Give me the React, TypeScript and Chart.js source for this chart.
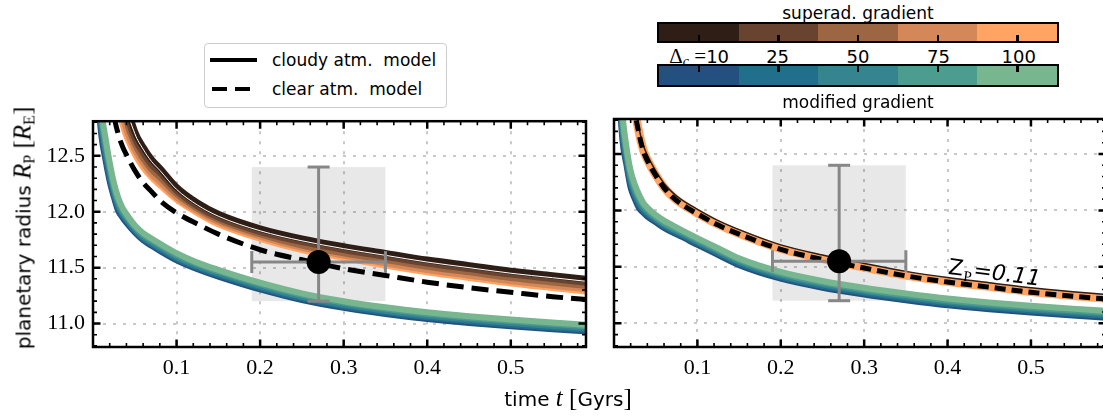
import React, { useEffect, useRef } from "react";
import { Chart, registerables } from "chart.js";

Chart.register(...registerables);

// ---------------- data ----------------
const timeGyr = [0.005, 0.01, 0.015, 0.02, 0.025, 0.03, 0.035, 0.04, 0.05, 0.06, 0.07, 0.08, 0.1, 0.125, 0.15, 0.2, 0.25, 0.3, 0.35, 0.4, 0.45, 0.5, 0.55, 0.6];

const deltaC = [10, 25, 50, 75, 100];
const superadColors = ["#2f1e16", "#674330", "#9c6642", "#d4885a", "#ffa462"];
const modifiedColors = ["#24507f", "#216f8d", "#358490", "#4d9c90", "#78b690"];

const N = null;
// left panel: superadiabatic gradient, cloudy atmosphere
const leftSup10 = [N, N, N, N, N, N, 13.3, 13.0, 12.72, 12.58, 12.47, 12.39, 12.22, 12.08, 11.98, 11.85, 11.76, 11.69, 11.63, 11.57, 11.52, 11.47, 11.43, 11.39];
const leftSup25 = [N, N, N, N, N, N, 13.15, 12.9, 12.66, 12.53, 12.42, 12.35, 12.19, 12.05, 11.95, 11.82, 11.73, 11.66, 11.6, 11.54, 11.49, 11.44, 11.4, 11.36];
const leftSup50 = [N, N, N, N, N, N, 13.02, 12.82, 12.61, 12.48, 12.38, 12.31, 12.16, 12.03, 11.93, 11.8, 11.7, 11.63, 11.57, 11.51, 11.46, 11.41, 11.37, 11.33];
const leftSup75 = [N, N, N, N, N, 13.2, 12.9, 12.74, 12.56, 12.44, 12.34, 12.27, 12.13, 12.01, 11.91, 11.78, 11.68, 11.61, 11.54, 11.48, 11.43, 11.38, 11.34, 11.3];
const leftSup100 = [N, N, N, N, 13.3, 12.95, 12.8, 12.68, 12.52, 12.4, 12.31, 12.24, 12.11, 11.99, 11.89, 11.76, 11.66, 11.59, 11.52, 11.46, 11.41, 11.36, 11.32, 11.28];
const leftSupWhite = [N, N, N, N, N, N, 13.25, 12.96, 12.7, 12.56, 12.45, 12.37, 12.2, 12.06, 11.96, 11.83, 11.74, 11.67, 11.61, 11.55, 11.5, 11.45, 11.41, 11.37];
// left panel: clear atmosphere
const leftClear = [N, N, N, 13.3, 12.88, 12.7, 12.59, 12.51, 12.37, 12.26, 12.18, 12.1, 11.99, 11.89, 11.8, 11.66, 11.57, 11.49, 11.43, 11.37, 11.32, 11.28, 11.24, 11.21];
// left panel: modified gradient
const leftMod10 = [13.1, 12.68, 12.46, 12.27, 12.13, 12.01, 11.95, 11.9, 11.815, 11.745, 11.695, 11.65, 11.565, 11.485, 11.42, 11.305, 11.21, 11.14, 11.085, 11.04, 11.005, 10.975, 10.948, 10.925];
const leftMod25 = [13.2, 12.74, 12.51, 12.31, 12.16, 12.04, 11.97, 11.92, 11.83, 11.76, 11.71, 11.665, 11.58, 11.5, 11.435, 11.32, 11.225, 11.155, 11.1, 11.055, 11.02, 10.99, 10.963, 10.94];
const leftMod50 = [13.3, 12.8, 12.56, 12.36, 12.19, 12.07, 11.99, 11.94, 11.845, 11.775, 11.725, 11.68, 11.595, 11.515, 11.45, 11.335, 11.24, 11.17, 11.115, 11.07, 11.035, 11.005, 10.978, 10.955];
const leftMod75 = [13.4, 12.86, 12.61, 12.4, 12.22, 12.1, 12.015, 11.96, 11.865, 11.795, 11.745, 11.7, 11.615, 11.533, 11.468, 11.352, 11.257, 11.187, 11.132, 11.087, 11.052, 11.022, 10.995, 10.972];
const leftMod100 = [13.5, 12.92, 12.66, 12.44, 12.26, 12.13, 12.04, 11.98, 11.88, 11.81, 11.76, 11.715, 11.63, 11.545, 11.48, 11.365, 11.27, 11.2, 11.145, 11.1, 11.065, 11.035, 11.01, 10.985];

// right panel: modified gradient
const rightMod10 = [13.2, 12.63, 12.4, 12.2, 12.1, 12.02, 11.98, 11.945, 11.895, 11.845, 11.805, 11.77, 11.695, 11.605, 11.515, 11.395, 11.315, 11.255, 11.205, 11.16, 11.125, 11.095, 11.07, 11.045];
const rightMod25 = [13.3, 12.69, 12.44, 12.24, 12.13, 12.05, 12.0, 11.965, 11.91, 11.86, 11.82, 11.785, 11.71, 11.62, 11.53, 11.41, 11.33, 11.27, 11.22, 11.175, 11.14, 11.11, 11.085, 11.06];
const rightMod50 = [13.4, 12.75, 12.48, 12.28, 12.16, 12.08, 12.02, 11.985, 11.925, 11.875, 11.835, 11.8, 11.725, 11.635, 11.545, 11.425, 11.345, 11.285, 11.235, 11.19, 11.155, 11.125, 11.1, 11.075];
const rightMod75 = [13.45, 12.81, 12.52, 12.31, 12.19, 12.11, 12.045, 12.005, 11.94, 11.89, 11.85, 11.815, 11.74, 11.65, 11.56, 11.44, 11.36, 11.3, 11.25, 11.205, 11.17, 11.14, 11.115, 11.09];
const rightMod100 = [13.5, 12.87, 12.56, 12.35, 12.23, 12.14, 12.07, 12.025, 11.96, 11.91, 11.87, 11.83, 11.755, 11.665, 11.575, 11.455, 11.375, 11.315, 11.265, 11.22, 11.185, 11.155, 11.13, 11.105];
// right panel: superadiabatic fit (Z_P = 0.11) and clear atmosphere
const rightSupFit = [N, N, N, 13.42, 12.92, 12.69, 12.54, 12.45, 12.315, 12.205, 12.125, 12.065, 11.975, 11.875, 11.795, 11.66, 11.57, 11.495, 11.425, 11.37, 11.325, 11.28, 11.245, 11.215];
const rightSupEdge = [N, N, N, N, 13.0, 12.73, 12.58, 12.49, 12.35, 12.24, 12.16, 12.1, 12.01, 11.91, 11.83, 11.695, 11.605, 11.53, 11.46, 11.405, 11.36, 11.315, 11.28, 11.25];
const rightClear = [N, N, N, 13.4, 12.9, 12.68, 12.53, 12.44, 12.31, 12.2, 12.12, 12.06, 11.97, 11.87, 11.79, 11.655, 11.565, 11.49, 11.42, 11.365, 11.32, 11.275, 11.24, 11.21];

// observation
const obsAge = 0.27;
const obsAgeLow = 0.19;
const obsAgeHigh = 0.35;
const obsRadius = 11.55;
const obsRadiusLow = 11.2;
const obsRadiusHigh = 12.4;

// axes
const xMin = 0;
const xMax = 0.59;
const yMin = 10.79;
const yMax = 12.81;
const xTickValues = [0.1, 0.2, 0.3, 0.4, 0.5];
const yTickValues = [11.0, 11.5, 12.0, 12.5];

// annotation
const zLabelAge = 0.4;
const zLabelRadius = 11.44;
const zLabelValue = "0.11";

// ---------------- styling helpers ----------------
const SANS = '"DejaVu Sans", sans-serif';
const SERIF = '"Liberation Serif", serif';
const GRID = "#c8c8c8";
const ERR = "#878787";

const toPoints = (ys: (number | null)[]) =>
  timeGyr.map((t, i) => ({ x: t, y: ys[i] })).filter((p) => p.y !== null);

const curve = (ys: (number | null)[], color: string, width: number, dash: number[] = []) => ({
  type: "line",
  data: toPoints(ys),
  borderColor: color,
  borderWidth: width,
  borderDash: dash,
  borderCapStyle: "butt",
  borderJoinStyle: "round",
  pointRadius: 0,
  pointHoverRadius: 0,
  fill: false,
  cubicInterpolationMode: "monotone",
  clip: 0,
});

const observationSets = () => [
  {
    type: "line",
    data: [
      { x: obsAge, y: obsRadiusLow },
      { x: obsAge, y: obsRadiusHigh },
    ],
    borderColor: ERR,
    borderWidth: 3,
    tension: 0,
    pointStyle: "line",
    pointRadius: 11,
    pointHoverRadius: 11,
    pointRotation: 0,
    pointBorderColor: ERR,
    pointBorderWidth: 3,
    clip: false,
  },
  {
    type: "line",
    data: [
      { x: obsAgeLow, y: obsRadius },
      { x: obsAgeHigh, y: obsRadius },
    ],
    borderColor: ERR,
    borderWidth: 3,
    tension: 0,
    pointStyle: "line",
    pointRadius: 11,
    pointHoverRadius: 11,
    pointRotation: 90,
    pointBorderColor: ERR,
    pointBorderWidth: 3,
    clip: false,
  },
  {
    type: "line",
    data: [{ x: obsAge, y: obsRadius }],
    showLine: false,
    pointRadius: 12,
    pointHoverRadius: 12,
    pointBackgroundColor: "#000",
    pointBorderWidth: 0,
    clip: false,
  },
];

const withOrder = (list: any[]) => list.map((d, i) => ({ ...d, order: list.length - i }));

const decoPlugin = (withZLabel: boolean) => ({
  id: "panelDeco",
  beforeDatasetsDraw(chart: any) {
    const { ctx, scales } = chart;
    const x = scales.x;
    const y = scales.y;
    const x0 = x.getPixelForValue(obsAgeLow);
    const x1 = x.getPixelForValue(obsAgeHigh);
    const y0 = y.getPixelForValue(obsRadiusHigh);
    const y1 = y.getPixelForValue(obsRadiusLow);
    ctx.save();
    ctx.fillStyle = "rgba(0,0,0,0.09)";
    ctx.fillRect(x0, y0, x1 - x0, y1 - y0);
    ctx.restore();
  },
  afterDatasetsDraw(chart: any) {
    if (!withZLabel) return;
    const { ctx, scales } = chart;
    const px = scales.x.getPixelForValue(zLabelAge);
    const py = scales.y.getPixelForValue(zLabelRadius);
    ctx.save();
    ctx.translate(px, py);
    ctx.rotate((7.5 * Math.PI) / 180);
    ctx.fillStyle = "#000";
    ctx.textBaseline = "alphabetic";
    ctx.font = `22px ${SANS}`;
    ctx.fillText("Z", 0, 0);
    let w = ctx.measureText("Z").width + 1;
    ctx.font = `15px ${SERIF}`;
    ctx.fillText("P", w, 5);
    w += ctx.measureText("P").width + 1;
    ctx.font = `italic 22px ${SANS}`;
    ctx.fillText("=" + zLabelValue, w, 0);
    ctx.restore();
  },
  afterDraw(chart: any) {
    const { ctx, chartArea: a, scales } = chart;
    const x = scales.x;
    const y = scales.y;
    ctx.save();
    ctx.strokeStyle = "#000";
    const vTick = (px: number, len: number, lw: number) => {
      ctx.lineWidth = lw;
      ctx.beginPath();
      ctx.moveTo(px, a.bottom);
      ctx.lineTo(px, a.bottom - len);
      ctx.moveTo(px, a.top);
      ctx.lineTo(px, a.top + len);
      ctx.stroke();
    };
    const hTick = (py: number, len: number, lw: number) => {
      ctx.lineWidth = lw;
      ctx.beginPath();
      ctx.moveTo(a.left, py);
      ctx.lineTo(a.left + len, py);
      ctx.moveTo(a.right, py);
      ctx.lineTo(a.right - len, py);
      ctx.stroke();
    };
    for (let k = 1; k * 0.02 < xMax; k++) {
      const v = k * 0.02;
      const major = k % 5 === 0;
      vTick(x.getPixelForValue(v), major ? 7.5 : 4, major ? 2.5 : 1.6);
    }
    for (let k = Math.ceil(yMin * 10); k / 10 <= yMax; k++) {
      const v = k / 10;
      const major = k % 5 === 0;
      hTick(y.getPixelForValue(v), major ? 7.5 : 4, major ? 2.5 : 1.6);
    }
    ctx.lineWidth = 2.5;
    ctx.strokeRect(a.left, a.top, a.right - a.left, a.bottom - a.top);
    ctx.restore();
  },
});

const makeOptions = (showYLabels: boolean, yWidth: number, rightPad: number) => ({
  animation: false,
  responsive: false,
  events: [],
  layout: { padding: { left: 0, top: 19, right: rightPad, bottom: 0 } },
  plugins: { legend: { display: false }, tooltip: { enabled: false } },
  scales: {
    x: {
      type: "linear",
      min: xMin,
      max: xMax,
      afterBuildTicks: (s: any) => {
        s.ticks = xTickValues.map((v) => ({ value: v }));
      },
      afterFit: (s: any) => {
        s.height = 71;
      },
      grid: { color: GRID, lineWidth: 2, drawTicks: false },
      border: { display: false, dash: [3, 7] },
      ticks: {
        padding: 8,
        color: "#000",
        maxRotation: 0,
        autoSkip: false,
        font: { family: SERIF, size: 22 },
        callback: (v: any) => Number(v).toFixed(1),
      },
    },
    y: {
      type: "linear",
      min: yMin,
      max: yMax,
      afterBuildTicks: (s: any) => {
        s.ticks = yTickValues.map((v) => ({ value: v }));
      },
      afterFit: (s: any) => {
        s.width = yWidth;
      },
      grid: { color: GRID, lineWidth: 2, drawTicks: false },
      border: { display: false, dash: [3, 7] },
      ticks: {
        display: showYLabels,
        padding: 8,
        color: "#000",
        autoSkip: false,
        font: { family: SERIF, size: 22 },
        callback: (v: any) => Number(v).toFixed(1),
      },
    },
  },
});

const leftConfig = (): any => ({
  type: "line",
  data: {
    datasets: withOrder([
      curve(leftMod10, modifiedColors[0], 6),
      curve(leftMod25, modifiedColors[1], 6),
      curve(leftMod50, modifiedColors[2], 6),
      curve(leftMod75, modifiedColors[3], 6),
      curve(leftMod100, modifiedColors[4], 6),
      curve(leftSup100, superadColors[4], 6.5),
      curve(leftSup75, superadColors[3], 6.5),
      curve(leftSup50, superadColors[2], 6.5),
      curve(leftSup25, superadColors[1], 6.5),
      curve(leftSup10, superadColors[0], 6.5),
      curve(leftSupWhite, "#ffffff", 1),
      curve(leftClear, "#000000", 5, [17, 8]),
      ...observationSets(),
    ]),
  },
  options: makeOptions(true, 93, 5),
  plugins: [decoPlugin(false)],
});

const rightConfig = (): any => ({
  type: "line",
  data: {
    datasets: withOrder([
      curve(rightMod10, modifiedColors[0], 6),
      curve(rightMod25, modifiedColors[1], 6),
      curve(rightMod50, modifiedColors[2], 6),
      curve(rightMod75, modifiedColors[3], 6),
      curve(rightMod100, modifiedColors[4], 6),
      curve(rightSupFit, superadColors[4], 8.5),
      curve(rightSupEdge, superadColors[0], 1.5),
      curve(rightClear, "#000000", 5, [11, 6]),
      ...observationSets(),
    ]),
  },
  options: makeOptions(false, 8, 10),
  plugins: [decoPlugin(true)],
});

// ---------------- overlay pieces ----------------
const mathR: React.CSSProperties = { fontFamily: SERIF, fontStyle: "italic", fontSize: 25 };
const subStyle: React.CSSProperties = { fontFamily: SERIF, fontSize: 16, position: "relative", top: 4 };
const bracket: React.CSSProperties = { fontFamily: SERIF, fontSize: 25 };

const cbLeft = 657;
const cbWidth = 402;
const segW = cbWidth / deltaC.length;

function ColorBar({ top, height, colors, ticksFromBottom }: any) {
  return (
    <div
      style={{
        position: "absolute",
        left: cbLeft,
        top,
        width: cbWidth,
        height,
        border: "2.5px solid #000",
        boxSizing: "border-box",
        display: "flex",
      }}
    >
      {colors.map((c: string, i: number) => (
        <div key={i} style={{ flex: 1, background: c, position: "relative" }}>
          <div
            style={{
              position: "absolute",
              left: "50%",
              marginLeft: -1,
              width: 2.5,
              height: 6,
              background: "#000",
              ...(ticksFromBottom ? { bottom: 0 } : { top: 0 }),
            }}
          />
        </div>
      ))}
    </div>
  );
}

export default function App() {
  const leftRef = useRef<HTMLCanvasElement>(null);
  const rightRef = useRef<HTMLCanvasElement>(null);

  useEffect(() => {
    const c1 = new Chart(leftRef.current as HTMLCanvasElement, leftConfig());
    const c2 = new Chart(rightRef.current as HTMLCanvasElement, rightConfig());
    return () => {
      c1.destroy();
      c2.destroy();
    };
  }, []);

  return (
    <div
      style={{
        position: "absolute",
        left: 0,
        top: 0,
        width: 1103,
        height: 418,
        overflow: "hidden",
        background: "#fff",
        color: "#000",
      }}
    >
      <canvas ref={leftRef} width={600} height={318} style={{ position: "absolute", left: 0, top: 100 }} />
      <canvas ref={rightRef} width={520} height={318} style={{ position: "absolute", left: 600, top: 100 }} />

      {/* y axis title */}
      <div
        style={{
          position: "absolute",
          left: 24,
          top: 228,
          transform: "translate(-50%, -50%) rotate(-90deg)",
          whiteSpace: "nowrap",
          fontFamily: SANS,
          fontSize: 20,
          lineHeight: "30px",
        }}
      >
        planetary radius <span style={mathR}>R</span>
        <span style={subStyle}>P</span> <span style={bracket}>[</span>
        <span style={mathR}>R</span>
        <span style={subStyle}>E</span>
        <span style={bracket}>]</span>
      </div>

      {/* x axis title */}
      <div
        style={{
          position: "absolute",
          left: 568,
          top: 398,
          transform: "translate(-50%, -50%)",
          whiteSpace: "nowrap",
          fontFamily: SANS,
          fontSize: 20,
          lineHeight: "30px",
        }}
      >
        time <span style={mathR}>t</span> <span style={bracket}>[</span>Gyrs<span style={bracket}>]</span>
      </div>

      {/* legend */}
      <div
        style={{
          position: "absolute",
          left: 204,
          top: 43,
          width: 243,
          height: 65,
          border: "1px solid #cccccc",
          borderRadius: 4,
          background: "#fff",
          boxSizing: "border-box",
          fontFamily: SANS,
          fontSize: 17,
        }}
      >
        <div style={{ position: "absolute", left: 5, top: 14, width: 47, height: 4, background: "#000" }} />
        <div style={{ position: "absolute", left: 7, top: 43, width: 15, height: 4, background: "#000" }} />
        <div style={{ position: "absolute", left: 30, top: 43, width: 15, height: 4, background: "#000" }} />
        <div style={{ position: "absolute", left: 67, top: 5, lineHeight: "22px", whiteSpace: "pre" }}>
          cloudy atm.  model
        </div>
        <div style={{ position: "absolute", left: 67, top: 34, lineHeight: "22px", whiteSpace: "pre" }}>
          clear atm.  model
        </div>
      </div>

      {/* colorbars */}
      <div
        style={{
          position: "absolute",
          left: cbLeft + cbWidth / 2,
          top: 13,
          transform: "translate(-50%, -50%)",
          fontFamily: SANS,
          fontSize: 17,
          whiteSpace: "nowrap",
        }}
      >
        superad. gradient
      </div>
      <ColorBar top={22} height={21} colors={superadColors} ticksFromBottom={true} />
      {deltaC.map((d, i) => (
        <div
          key={d}
          style={{
            position: "absolute",
            left: cbLeft + segW * (i + 0.5) + (i === 0 ? 2 : 0),
            top: 57,
            transform: "translate(-50%, -50%)",
            fontFamily: SANS,
            fontSize: 18,
            whiteSpace: "nowrap",
            lineHeight: "22px",
          }}
        >
          {i === 0 ? (
            <span>
              <span style={{ fontFamily: SERIF, fontSize: 21 }}>Δ</span>
              <span style={{ fontFamily: SERIF, fontStyle: "italic", fontSize: 14, position: "relative", top: 3 }}>c</span>
              <span style={{ fontFamily: SERIF, fontSize: 21 }}> =</span>
            </span>
          ) : null}
          {String(d)}
        </div>
      ))}
      <ColorBar top={64} height={23} colors={modifiedColors} ticksFromBottom={false} />
      <div
        style={{
          position: "absolute",
          left: cbLeft + cbWidth / 2,
          top: 102,
          transform: "translate(-50%, -50%)",
          fontFamily: SANS,
          fontSize: 17,
          whiteSpace: "nowrap",
        }}
      >
        modified gradient
      </div>
    </div>
  );
}
